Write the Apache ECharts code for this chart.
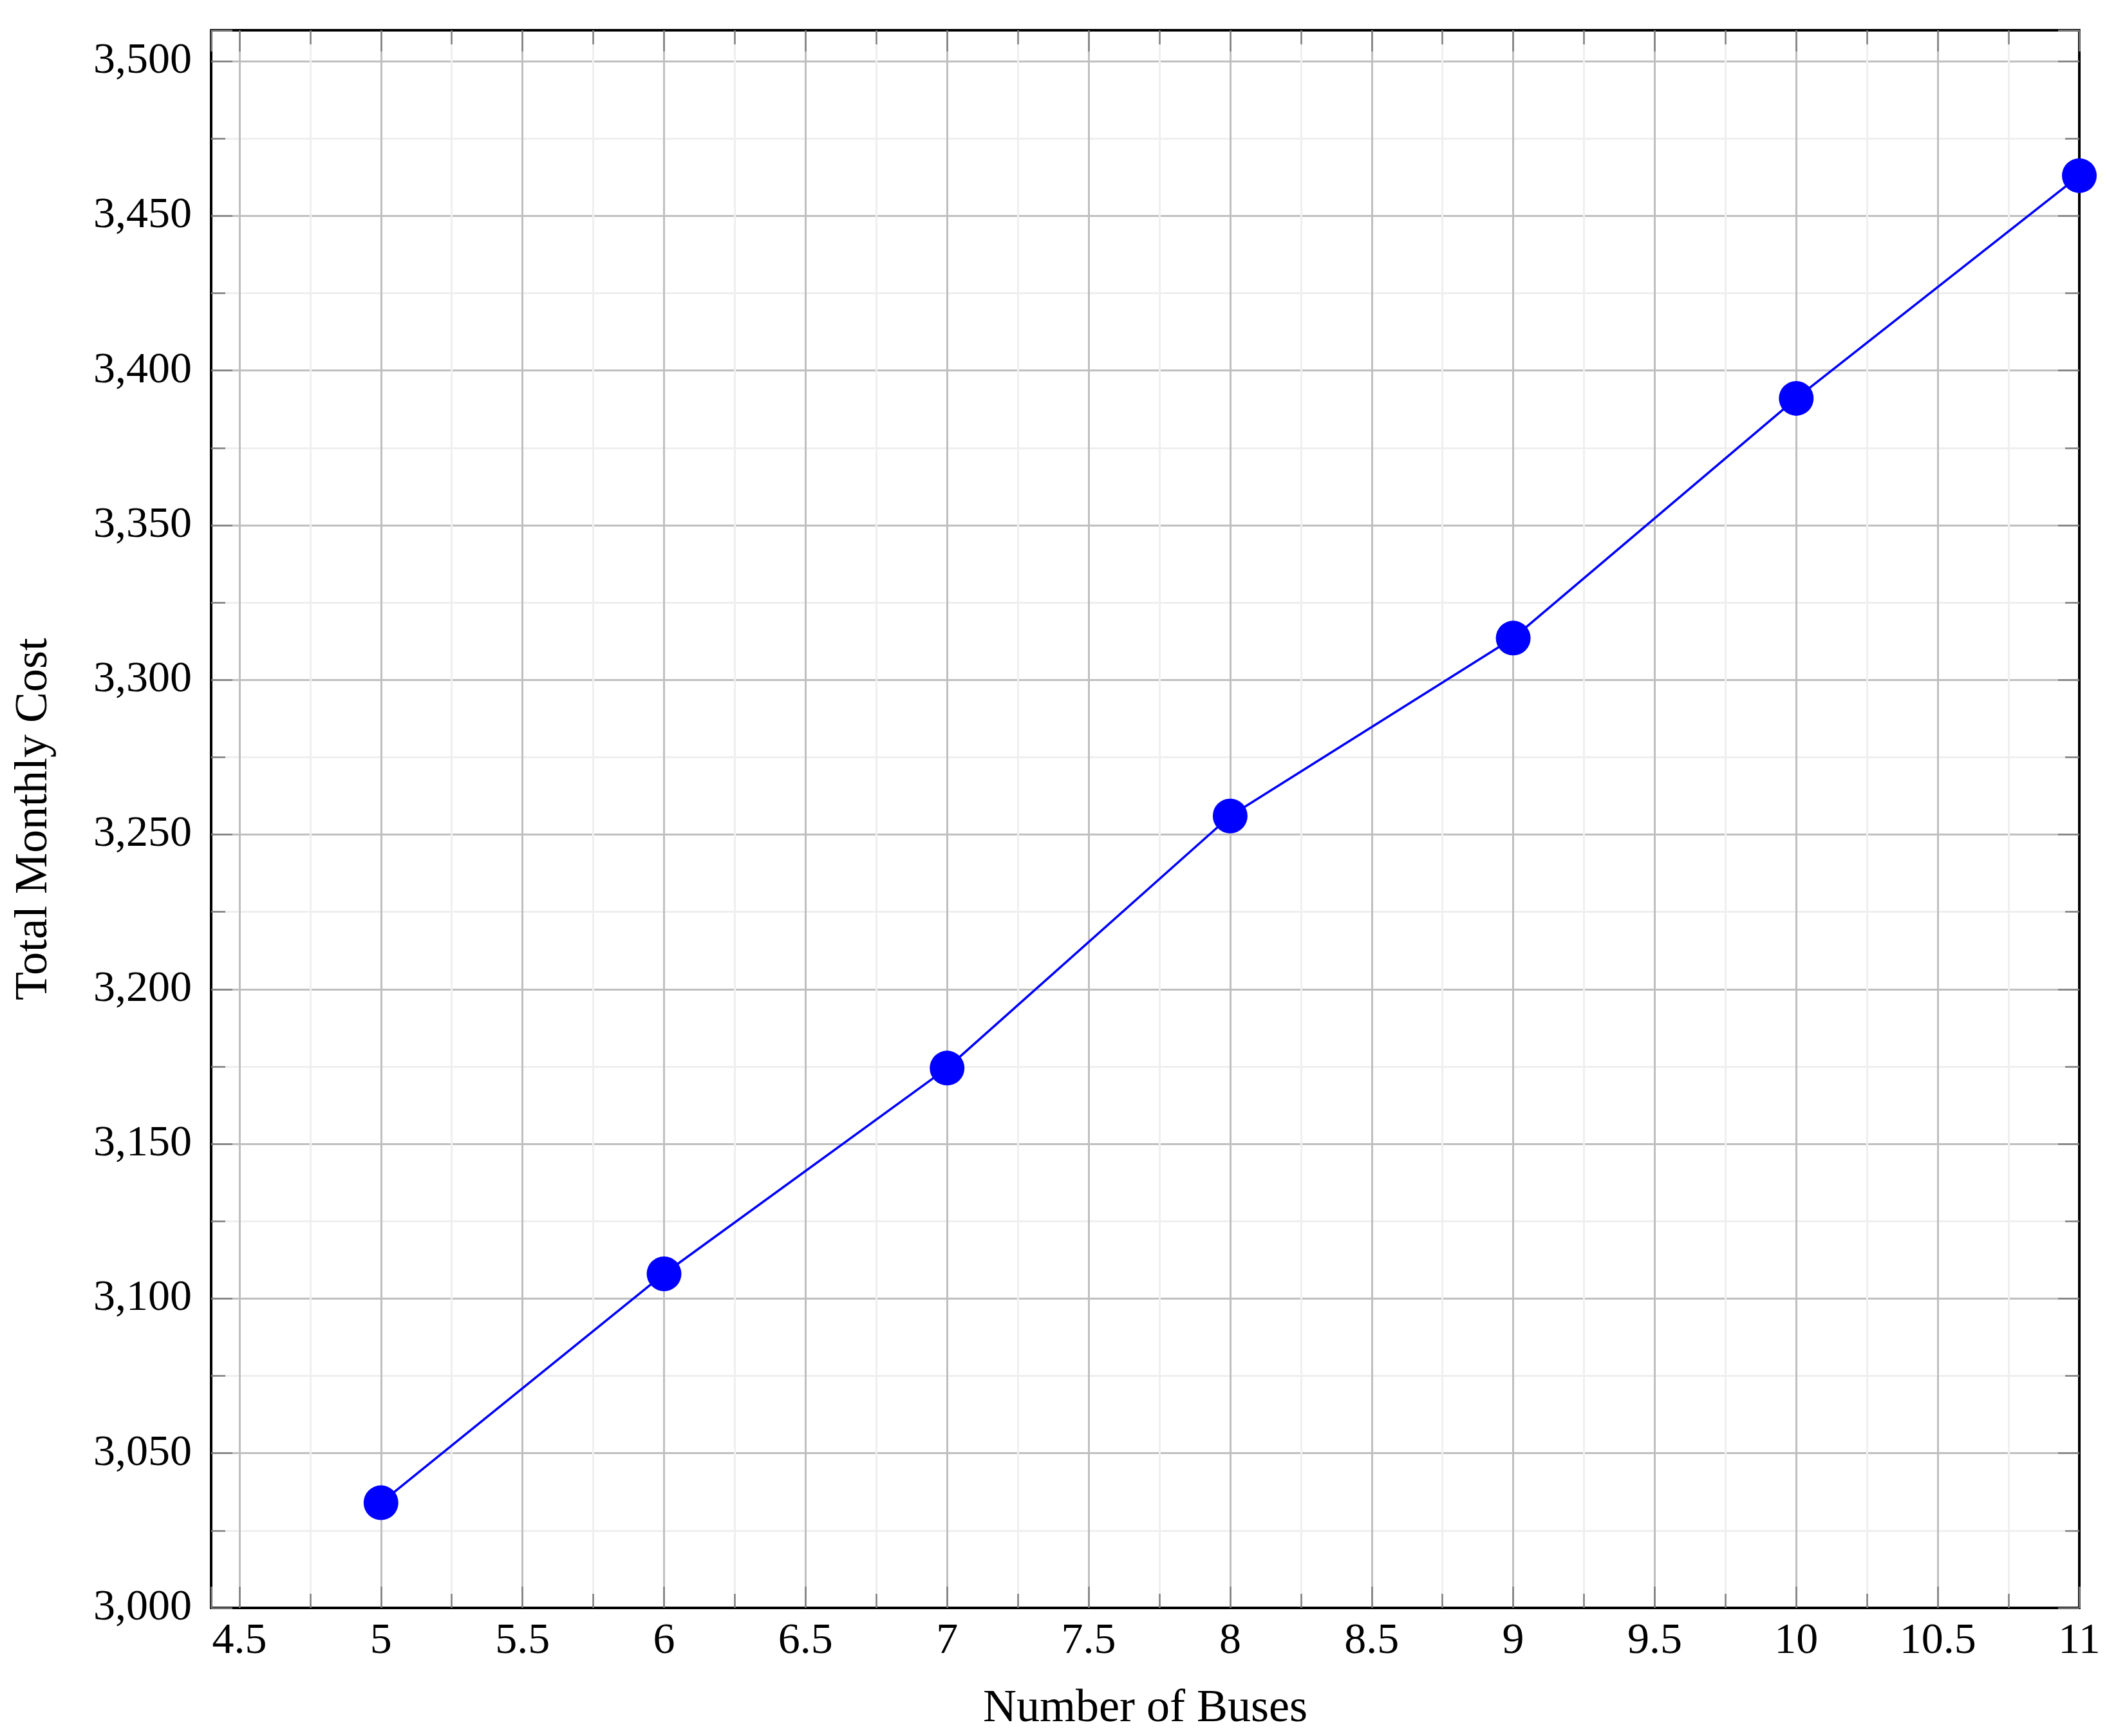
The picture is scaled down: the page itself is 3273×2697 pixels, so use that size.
<!DOCTYPE html>
<html>
<head>
<meta charset="utf-8">
<script src="https://cdn.jsdelivr.net/npm/echarts@6/dist/echarts.min.js"></script>
<style>
html,body{margin:0;padding:0;background:#fff;}
#chart{width:3273px;height:2697px;}
</style>
</head>
<body>
<div id="chart"></div>
<script>
// Data
const buses = [5, 6, 7, 8, 9, 10, 11];
const totalMonthlyCost = [3034, 3108, 3174.5, 3256, 3313.5, 3391, 3463];
const xLabel = 'Number of Buses';
const yLabel = 'Total Monthly Cost';

const FONT = 'Liberation Serif';
const FS = 68;
const NFS = 72;

const chart = echarts.init(document.getElementById('chart'), null, {renderer: 'canvas'});

const axisLineStyle = {show: true, lineStyle: {color: '#000', width: 4}};
const tickStyle = {show: true, inside: true, length: 33, lineStyle: {color: '#808080', width: 2.5}};
const minorTickStyle = {show: true, splitNumber: 2, length: 22, lineStyle: {color: '#808080', width: 2.5}};

const xCommon = {
  type: 'value', min: 4.4, max: 11, splitNumber: 13,
  axisLine: axisLineStyle,
  axisTick: tickStyle,
  minorTick: minorTickStyle
};
const yCommon = {
  type: 'value', min: 3000, max: 3510, interval: 50,
  axisLine: axisLineStyle,
  axisTick: tickStyle,
  minorTick: minorTickStyle
};

chart.setOption({
  backgroundColor: '#fff',
  animation: false,
  grid: {left: 328, right: 43, top: 47, bottom: 199, containLabel: false, outerBoundsMode: 'none'},
  xAxis: [
    Object.assign({}, xCommon, {
      position: 'bottom',
      name: xLabel, nameLocation: 'middle', nameGap: 121,
      nameTextStyle: {fontFamily: FONT, fontSize: NFS, color: '#000'},
      axisLabel: {show: true, margin: 18, fontFamily: FONT, fontSize: FS, color: '#000',
        showMinLabel: false,
        formatter: v => String(v)},
      splitLine: {show: true, showMinLine: false, showMaxLine: false, lineStyle: {color: '#bfbfbf', width: 3}},
      minorSplitLine: {show: true, lineStyle: {color: '#efefef', width: 3}}
    }),
    Object.assign({}, xCommon, {
      position: 'top',
      axisLabel: {show: false},
      splitLine: {show: false},
      minorSplitLine: {show: false}
    })
  ],
  yAxis: [
    Object.assign({}, yCommon, {
      position: 'left',
      name: yLabel, nameLocation: 'middle', nameGap: 239,
      nameTextStyle: {fontFamily: FONT, fontSize: NFS, color: '#000'},
      axisLabel: {show: true, margin: 30, fontFamily: FONT, fontSize: FS, color: '#000',
        showMaxLabel: false,
        formatter: v => v.toLocaleString('en-US')},
      splitLine: {show: true, showMinLine: false, showMaxLine: false, lineStyle: {color: '#bfbfbf', width: 3}},
      minorSplitLine: {show: true, lineStyle: {color: '#efefef', width: 3}}
    }),
    Object.assign({}, yCommon, {
      position: 'right',
      axisLabel: {show: false},
      splitLine: {show: false},
      minorSplitLine: {show: false}
    })
  ],
  series: [{
    type: 'line',
    xAxisIndex: 0, yAxisIndex: 0,
    data: buses.map((b, i) => [b, totalMonthlyCost[i]]),
    symbol: 'circle', symbolSize: 54,
    clip: false,
    lineStyle: {color: '#0000ff', width: 3.5},
    itemStyle: {color: '#0000ff'},
    z: 5
  }]
});
</script>
</body>
</html>
